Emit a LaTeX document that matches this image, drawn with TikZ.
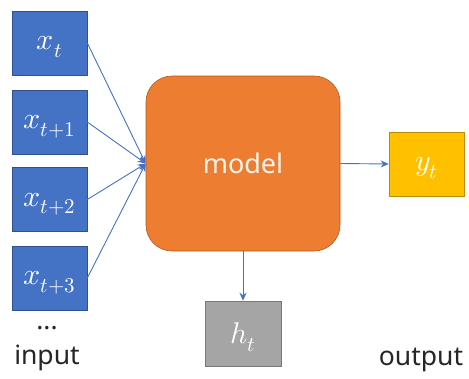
\documentclass[tikz,border=0pt]{standalone}
\usepackage{fontspec}
\usepackage{unicode-math}
\setmathfont{Latin Modern Math}
\setsansfont{Noto Sans}
\usetikzlibrary{arrows.meta}
\begin{document}
\begin{tikzpicture}[x=1pt,y=-1pt,
  mfont/.style={font=\fontsize{30}{32}\selectfont, text=white, text depth=0pt},
  inbox/.style={draw=inborder, fill=inblue, minimum width=75pt, minimum height=64pt, inner sep=0pt, mfont, line width=0.6pt},
  conn/.style={draw=inblue, line width=0.9pt, -{Stealth[length=8pt,width=7pt]}},
  lbl/.style={font=\sffamily\fontsize{26.5}{28}\selectfont, text=black!85}]
\definecolor{inblue}{HTML}{4472C4}
\definecolor{inborder}{HTML}{2F528F}
\definecolor{orng}{HTML}{ED7D31}
\definecolor{orborder}{HTML}{AE5A21}
\definecolor{yel}{HTML}{FFC000}
\definecolor{yelborder}{HTML}{BC8C00}
\definecolor{gry}{HTML}{A5A5A5}
\definecolor{gryborder}{HTML}{787878}
\useasboundingbox (0,0) rectangle (469,378);
\node[inbox] (x0) at (49.5,43) {$x_t$};
\node[inbox] (x1) at (49.5,122) {$x_{t+1}$};
\node[inbox] (x2) at (49.5,199.5) {$x_{t+2}$};
\node[inbox] (x3) at (49.5,278) {$x_{t+3}$};
\node[draw=orborder, fill=orng, rounded corners=26pt, minimum width=194pt, minimum height=175pt, line width=0.6pt, text=white!92!orng, font=\sffamily\fontsize{27}{30}\selectfont] (m) at (243,163.5) {model};
\node[draw=yelborder, fill=yel, minimum width=75pt, minimum height=64pt, inner sep=0pt, line width=0.6pt, mfont] (y) at (426.5,164) {$y_t$};
\node[draw=gryborder, fill=gry, minimum width=76pt, minimum height=65pt, inner sep=0pt, line width=0.6pt, mfont] (h) at (243,333.5) {$h_t$};
\foreach \i in {0,1,2,3} \draw[conn] (x\i.east) -- (m.west);
\draw[conn] (m.east) -- (y.west);
\draw[conn] (m.south) -- (h.north);
\node[lbl] (dots) at (47,328) {...};
\node[lbl] (inp) at (47,358) {input};
\node[lbl] (out) at (421,360) {output};
\end{tikzpicture}
\end{document}
